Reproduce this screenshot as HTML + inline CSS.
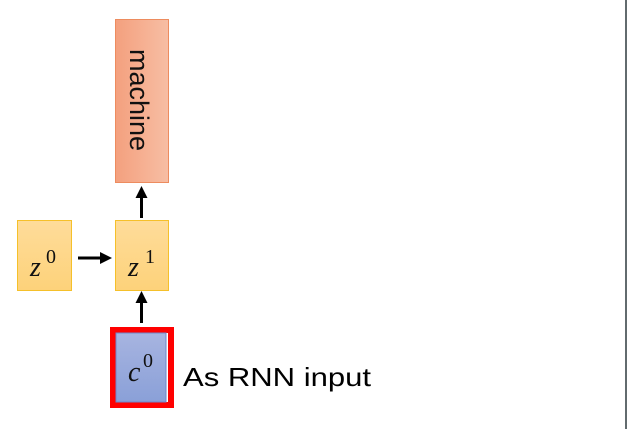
<!DOCTYPE html>
<html><head><meta charset="utf-8"><style>
html,body{margin:0;padding:0;background:#fff;width:627px;height:429px;overflow:hidden}
</style></head><body>
<svg width="627" height="429" xmlns="http://www.w3.org/2000/svg">
<defs>
<linearGradient id="or" x1="0" x2="1" y1="0" y2="0"><stop offset="0" stop-color="#f4a07e"/><stop offset="1" stop-color="#f7bea4"/></linearGradient>
<linearGradient id="ye" x1="0" x2="0" y1="0" y2="1"><stop offset="0" stop-color="#fedc9a"/><stop offset="1" stop-color="#fdd27a"/></linearGradient>
<linearGradient id="bl" x1="0" x2="0" y1="0" y2="1"><stop offset="0" stop-color="#a7b4e0"/><stop offset="1" stop-color="#8aa0d8"/></linearGradient>
</defs>
<rect x="0" y="0" width="627" height="429" fill="#fff"/>
<line x1="626" y1="0" x2="626" y2="429" stroke="#2f3a3f" stroke-width="1.5"/>
<rect x="115.5" y="19.5" width="53" height="163" fill="url(#or)" stroke="#ed8c5f"/>
<text transform="translate(130,100) rotate(90)" text-anchor="middle" font-family="Liberation Sans, sans-serif" font-size="27" fill="#111">machine</text>
<rect x="17.5" y="220.5" width="54" height="70" fill="url(#ye)" stroke="#f5c02a"/>
<rect x="115.5" y="220.5" width="53" height="70" fill="url(#ye)" stroke="#f5c02a"/>
<text x="30" y="276" font-family="Liberation Serif, serif" font-style="italic" font-size="28" fill="#111">z</text>
<text x="46" y="263" font-family="Liberation Serif, serif" font-size="20" fill="#111">0</text>
<text x="128" y="276" font-family="Liberation Serif, serif" font-style="italic" font-size="28" fill="#111">z</text>
<text x="145" y="263" font-family="Liberation Serif, serif" font-size="20" fill="#111">1</text>
<line x1="78" y1="258" x2="101" y2="258" stroke="#000" stroke-width="3"/>
<polygon points="100,252 112,258 100,264" fill="#000"/>
<line x1="141.5" y1="218" x2="141.5" y2="197" stroke="#000" stroke-width="3"/>
<polygon points="135.5,198 141.5,186 147.5,198" fill="#000"/>
<line x1="141.5" y1="323" x2="141.5" y2="302" stroke="#000" stroke-width="3"/>
<polygon points="135.5,303 141.5,291 147.5,303" fill="#000"/>
<rect x="113" y="330" width="58" height="75" fill="none" stroke="#ff0000" stroke-width="6"/>
<rect x="116" y="333" width="50" height="69" fill="url(#bl)" stroke="#6f86c8"/>
<text x="128" y="381" font-family="Liberation Serif, serif" font-style="italic" font-size="28" fill="#111">c</text>
<text x="143" y="367" font-family="Liberation Serif, serif" font-size="20" fill="#111">0</text>
<text x="183" y="386" font-family="Liberation Sans, sans-serif" font-size="26" fill="#000" textLength="188" lengthAdjust="spacingAndGlyphs">As RNN input</text>
</svg>
</body></html>
